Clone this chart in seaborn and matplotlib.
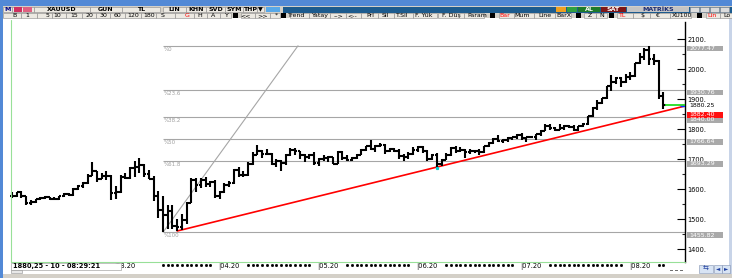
import numpy as np
import pandas as pd
import matplotlib
matplotlib.use("Agg")
import matplotlib.pyplot as plt
import seaborn as sns
from matplotlib.patches import Rectangle
import matplotlib.transforms as mtransforms

sns.set_style("white")
plt.rcParams['font.family'] = ['DejaVu Sans']

# ---------------- data (XAUUSD daily, 30.01.2020 - 12.08.2020) ----------------
opens = [1576, 1577, 1589, 1576, 1553, 1557, 1566, 1570, 1572, 1567, 1566, 1576, 1584, 1581, 1601, 1611, 1620, 1643, 1659, 1635, 1642, 1643,
         1585, 1589, 1641, 1636, 1669, 1674, 1680, 1649, 1635, 1576, 1529, 1514, 1527, 1478, 1472, 1498, 1553, 1630, 1613, 1629, 1617, 1622,
         1577, 1591, 1613, 1620, 1663, 1648, 1647, 1684, 1714, 1726, 1716, 1717, 1683, 1694, 1686, 1713, 1729, 1726, 1713, 1706, 1713,
         1686, 1700, 1702, 1706, 1685, 1725, 1702, 1698, 1702, 1715, 1731, 1743, 1733, 1745, 1747, 1726, 1735, 1728, 1709, 1708, 1718,
         1730, 1740, 1727, 1699, 1714, 1685, 1698, 1715, 1738, 1728, 1730, 1725, 1727, 1727, 1722, 1743, 1755, 1768, 1761, 1764, 1771, 1772,
         1781, 1769, 1775, 1774, 1783, 1795, 1809, 1803, 1798, 1802, 1809, 1808, 1797, 1810, 1818, 1842, 1871, 1888, 1902, 1942, 1958, 1970, 1958,
         1975, 1976, 2019, 2039, 2062, 2035, 2028, 1911]
highs = [1589, 1590, 1592, 1577, 1562, 1568, 1574, 1575, 1574, 1572, 1578, 1585, 1586, 1604, 1612, 1624, 1649, 1689, 1661, 1652, 1660, 1646,
         1610, 1646, 1652, 1672, 1692, 1703, 1682, 1662, 1645, 1594, 1575, 1547, 1547, 1500, 1515, 1557, 1637, 1636, 1638, 1640, 1628, 1629,
         1592, 1619, 1626, 1667, 1672, 1660, 1690, 1722, 1747, 1730, 1735, 1719, 1699, 1697, 1717, 1738, 1736, 1728, 1717, 1718, 1722,
         1702, 1715, 1710, 1708, 1726, 1728, 1715, 1706, 1718, 1735, 1745, 1765, 1747, 1753, 1749, 1737, 1738, 1735, 1716, 1724, 1740,
         1745, 1742, 1729, 1718, 1719, 1700, 1719, 1739, 1744, 1740, 1733, 1735, 1731, 1734, 1745, 1757, 1769, 1779, 1768, 1773, 1775, 1785,
         1788, 1775, 1777, 1785, 1796, 1818, 1818, 1808, 1818, 1813, 1814, 1812, 1811, 1820, 1843, 1875, 1898, 1904, 1945, 1981, 1975, 1972, 1985,
         1990, 2021, 2055, 2069, 2077.47, 2049, 2031, 1923]
lows = [1570, 1573, 1570, 1548, 1548, 1554, 1562, 1566, 1562, 1563, 1564, 1574, 1577, 1578, 1598, 1603, 1617, 1643, 1624, 1634, 1631, 1563,
        1567, 1587, 1632, 1635, 1640, 1655, 1640, 1633, 1560, 1504, 1455.82, 1465, 1466, 1460, 1463, 1482, 1552, 1591, 1604, 1608, 1605, 1571,
        1568, 1588, 1605, 1615, 1640, 1640, 1643, 1680, 1712, 1703, 1712, 1681, 1672, 1660, 1680, 1710, 1715, 1700, 1690, 1700, 1680,
        1677, 1692, 1690, 1683, 1682, 1697, 1692, 1694, 1700, 1712, 1726, 1729, 1725, 1740, 1718, 1724, 1725, 1700, 1693, 1700, 1715,
        1725, 1721, 1693, 1697, 1671, 1676, 1697, 1711, 1720, 1723, 1705, 1717, 1720, 1713, 1719, 1740, 1750, 1757, 1755, 1758, 1765, 1766,
        1762, 1758, 1770, 1762, 1777, 1792, 1797, 1793, 1797, 1797, 1803, 1795, 1795, 1806, 1813, 1840, 1865, 1882, 1900, 1928, 1949, 1940, 1954,
        1964, 1975, 2017, 2030, 2015, 2015, 1900, 1867]
closes = [1577, 1589, 1576, 1553, 1557, 1566, 1570, 1572, 1567, 1566, 1576, 1584, 1581, 1601, 1611, 1620, 1643, 1659, 1635, 1642, 1643, 1585,
          1589, 1641, 1636, 1669, 1674, 1680, 1649, 1635, 1576, 1529, 1514, 1527, 1478, 1472, 1498, 1553, 1630, 1613, 1629, 1617, 1622, 1577,
          1591, 1613, 1620, 1663, 1648, 1647, 1684, 1714, 1726, 1716, 1717, 1683, 1694, 1686, 1713, 1729, 1726, 1713, 1706, 1713, 1686,
          1700, 1702, 1706, 1685, 1725, 1702, 1698, 1702, 1715, 1731, 1743, 1733, 1745, 1747, 1726, 1735, 1728, 1709, 1708, 1718, 1730,
          1740, 1727, 1699, 1714, 1685, 1698, 1715, 1738, 1728, 1730, 1725, 1727, 1727, 1722, 1743, 1755, 1768, 1761, 1764, 1771, 1772, 1781,
          1769, 1775, 1774, 1783, 1795, 1809, 1803, 1798, 1802, 1809, 1808, 1797, 1810, 1818, 1842, 1871, 1888, 1902, 1942, 1958, 1970, 1958, 1975,
          1976, 2019, 2039, 2062, 2035, 2028, 1911, 1880.25]

month_idx = [22, 44, 65, 86, 108, 131]
month_labels = ["03.20", "04.20", "05.20", "06.20", "07.20", "08.20"]
price_ticks = [1400, 1500, 1600, 1700, 1800, 1900, 2000, 2100]
minor_ticks = [1450, 1550, 1650, 1750, 1850, 1950, 2050]

fib_high = 2077.47
fib_low = 1455.82
fib_pcts = [0, 23.6, 38.2, 50, 61.8, 100]
fib_names = ["%0", "%23.6", "%38.2", "%50", "%61.8", "%100"]
fib_start = 32
diag_x = [32, 60.6]
diag_y = [1455.82, 2077.47]
trend_x = [35, 90]
trend_y = [1460, 1673]
touch_idx = [90]
touch_val = [1671]
last_price = 1880.25
trend_tag = 1882.40
status_text = "1880,25 - 10 - 08:29:21"

# ---------------- layout ----------------
W, H = 732, 278
fig = plt.figure(figsize=(W / 100, H / 100), dpi=100, facecolor="white")
PXB = 4.72          # pixels per bar
X0 = 12             # pixel x of first bar
xmin, xmax = (10 - X0) / PXB, (685 - X0) / PXB
ymin, ymax = 1400 - 13 / 0.3, 1400 + 227 / 0.3

ax = fig.add_axes([10 / W, (H - 262) / H, 675 / W, 240 / H])
ax.set_facecolor("white")
ax.set_xlim(xmin, xmax)
ax.set_ylim(ymin, ymax)

def R(x0, y0, x1, y1, fc, ec="none", lw=0.0, z=5):
    fig.add_artist(Rectangle((x0 / W, 1 - y1 / H), (x1 - x0) / W, (y1 - y0) / H,
                             transform=fig.transFigure, facecolor=fc, edgecolor=ec,
                             linewidth=lw, zorder=z))

def T(x, y, s, size=4.5, color="black", ha="center", weight="normal", z=6):
    fig.text(x / W, 1 - y / H, s, ha=ha, va="center", fontsize=size, color=color,
             fontweight=weight, zorder=z)

df = pd.DataFrame({"o": opens, "h": highs, "l": lows, "c": closes})
df["i"] = np.arange(len(df))

# fib levels
fib_vals = [fib_high - p / 100 * (fib_high - fib_low) for p in fib_pcts]
for v, nm in zip(fib_vals, fib_names):
    ax.hlines(v, fib_start, xmax, color="#A6A6A6", lw=0.8, zorder=1)
    ax.text(fib_start + 0.1, v - 3, nm, fontsize=4, color="#A0A0A0", ha="left", va="top", zorder=1)

# gann-like diagonal
sns.lineplot(x=diag_x, y=diag_y, ax=ax, color="#A6A6A6", lw=0.8, zorder=1)

# trend line extended to axis
slope = (trend_y[1] - trend_y[0]) / (trend_x[1] - trend_x[0])
tx = np.array([trend_x[0], xmax])
ty = trend_y[0] + slope * (tx - trend_x[0])
sns.lineplot(x=tx, y=ty, ax=ax, color="#FF0000", lw=1.2, zorder=2)

# OHLC bars
ax.vlines(df["i"], df["l"], df["h"], color="black", lw=1.5, zorder=3)
ax.hlines(df["o"], df["i"] - 0.48, df["i"], color="black", lw=1.5, zorder=3)
ax.hlines(df["c"], df["i"], df["i"] + 0.48, color="black", lw=1.5, zorder=3)
ax.plot(touch_idx, touch_val, "s", color="#00D0D0", ms=1.3, zorder=4)

# last-price line
ax.hlines(last_price, df["i"].iloc[-1] + 0.4, xmax, color="#22DD22", lw=1.3, zorder=4)
ax.hlines(last_price - 3, xmax - 1.1, xmax, color="#1030FF", lw=1.0, zorder=4)

# axes styling
for s in ["top", "left", "bottom"]:
    ax.spines[s].set_visible(False)
ax.spines["right"].set_color("black")
ax.spines["right"].set_linewidth(1.0)
ax.yaxis.tick_right()
ax.set_yticks(price_ticks)
ax.set_yticklabels([f"{p}." for p in price_ticks])
ax.set_yticks(minor_ticks, minor=True)
ax.tick_params(axis="y", which="major", direction="in", length=6, width=0.8,
               labelsize=4.8, pad=2, colors="black")
ax.tick_params(axis="y", which="minor", direction="in", length=2.5, width=0.8)
ax.set_xticks([])

# right-side value tags
bt = mtransforms.blended_transform_factory(ax.transAxes, ax.transData)
for v in fib_vals:
    ax.add_patch(Rectangle((1.003, v - 19), 36 / 675, 19, transform=bt, clip_on=False,
                           facecolor="#A9A9A9", edgecolor="none", zorder=5))
    ax.text(1.006, v - 9.5, f"{v:.2f}", transform=bt, fontsize=4.5, color="white",
            ha="left", va="center", zorder=6, clip_on=False)
ax.add_patch(Rectangle((1.003, trend_tag - 45), 36 / 675, 19, transform=bt, clip_on=False,
                       facecolor="#FF1010", edgecolor="none", zorder=5))
ax.text(1.006, trend_tag - 35.5, f"{trend_tag:.2f}", transform=bt, fontsize=4.5, color="white",
        ha="left", va="center", zorder=6, clip_on=False)
ax.text(1.006, last_price - 2, f"{last_price:.2f}", transform=bt, fontsize=4.5, color="black",
        ha="left", va="center", zorder=6, clip_on=False)

# date labels and dotted bar row
bx = mtransforms.blended_transform_factory(ax.transData, fig.transFigure)
for mi, ml in zip(month_idx, month_labels):
    ax.text(mi - 0.3, 1 - 266.5 / H, "|" + ml, transform=bx, fontsize=4.8, color="black",
            ha="left", va="center", clip_on=False)
dots = [i for i in range(fib_start, len(df))
        if not any(m - 1 <= i <= m + 5 for m in month_idx)]
ax.plot(dots, [1 - 265 / H] * len(dots), "s", color="black", ms=1.0, transform=bx,
        clip_on=False)

# ---------------- window chrome ----------------
R(0, 0, W, 6, "#5289D6", z=4)
R(0, 0, 3, H, "#5289D6", z=4)
R(729, 18, W, 274, "#C8D4E8", z=4)
R(3, 6, W, 18, "#D4D0C8", z=4)
R(283, 6.5, W, 12.5, "#1D5B8E", z=4)
# green frame lines
fig.add_artist(plt.Line2D([11 / W, 11 / W], [1 - 20 / H, 1 - 262 / H], transform=fig.transFigure,
                          color="#98E098", lw=0.8, zorder=4))
fig.add_artist(plt.Line2D([11 / W, 685 / W], [1 - 262.3 / H, 1 - 262.3 / H], transform=fig.transFigure,
                          color="#98E098", lw=0.8, zorder=4))

# toolbar row 1
row1 = [("M", 3, 12, "#000080"), ("", 12, 34, None), ("XAUUSD", 34, 90, "black"), ("GUN", 90, 122, "black"),
        ("TL", 122, 160, "black"), ("LIN", 163, 186, "black"), ("KHN", 186, 206, "black"),
        ("SVD", 206, 225, "black"), ("SYM", 225, 243, "black"), ("THP", 243, 257, "black"),
        ("▼", 257, 264, "black")]
for txt, a, b, col in row1:
    R(a, 6.7, b, 12.4, "#ECE9E2", ec="#8A8A8A", lw=0.4, z=5)
    if txt:
        T((a + b) / 2, 9.6, txt, size=4.5, color=col, weight="bold")
R(14, 7.3, 22, 11.8, "#D03060", z=6)
R(23, 7.3, 32, 11.8, "#E06080", z=6)
R(266, 6.7, 280, 12.4, "#58A8E8", z=5)
R(556, 7, 566, 12.2, "#F0A020", z=5)
R(567, 7, 577, 12.2, "#30A040", z=5)
R(578, 6.8, 600, 12.4, "#1E7A2A", z=5)
T(589, 9.6, "AL", size=4.5, color="white", weight="bold")
R(601, 6.8, 626, 12.4, "#7E1616", z=5)
T(613.5, 9.6, "SAT", size=4.5, color="white", weight="bold")
R(627, 6.8, 689, 12.4, "#C4C4C4", z=5)
T(658, 9.6, "MATRİKS", size=4.5, color="#1A2A70", weight="bold")
for a in [690, 700, 710, 720]:
    R(a, 7, a + 9, 12.2, "#DCDCDC", ec="#909090", lw=0.4, z=5)

# toolbar row 2
row2 = [("B", 15), ("1", 27), ("5", 47), ("10", 57), ("15", 74), ("20", 89), ("30", 103), ("60", 117),
        ("120", 133), ("180", 149), ("S", 163), ("G", 187, "red"), ("H", 200), ("A", 213), ("Y", 227),
        ("■", 235), ("<<", 246), (">>", 263), ("*", 276), ("■", 283), ("Trend", 297), ("Yatay", 320),
        ("-->", 339), ("<--", 352), ("Prl", 370), ("Sil", 385), ("T.Sil", 402), ("F. Yük", 424),
        ("F. Düş", 451), ("Param", 477), ("■", 492), ("Bar", 505, "red"), ("Mum", 522), ("Line", 545),
        ("BarX", 564), ("■", 578), ("Z", 590), ("N", 602), ("■", 611), ("TL", 623, "red"), ("$", 642),
        ("€", 658), ("XU100", 682), ("■", 699), ("Lin", 712, "red"), ("Lo", 727)]
centers = [r[1] for r in row2]
edges = [3] + [(centers[k] + centers[k + 1]) / 2 for k in range(len(centers) - 1)] + [732]
for k, r in enumerate(row2):
    txt, c = r[0], r[1]
    col = r[2] if len(r) > 2 else "black"
    if txt == "■":
        R(c - 2.5, 13, c + 2.5, 17.8, "black", z=5)
        continue
    R(edges[k], 12.8, edges[k + 1], 17.9, "#ECE9E2", ec="#8A8A8A", lw=0.4, z=5)
    T(c, 15.4, txt, size=4.5, color=col)

# status box bottom-left
R(11, 262.8, 121, 269.8, "white", ec="#A8A8A8", lw=0.5, z=5)
T(13, 266.3, status_text, size=4.8, ha="left", weight="bold", z=6)
R(11, 270, 22, 273, "#E8E8E8", ec="#909090", lw=0.4, z=5)
# bottom-right controls
for a in [670, 675, 680]:
    R(a, 269.5, a + 3, 270.5, "#707070", z=5)
R(699, 264.5, 713, 272.5, "#D8E4F4", ec="#8090B0", lw=0.4, z=5)
T(706, 268.5, "⇆", size=5, color="#2040A0", z=6)
R(714, 265, 722, 272.5, "#D8E4F4", ec="#8090B0", lw=0.4, z=5)
T(718, 268.8, "◄", size=4, color="#2040A0", z=6)
R(722, 265, 730, 272.5, "#D8E4F4", ec="#8090B0", lw=0.4, z=5)
T(726, 268.8, "►", size=4, color="#2040A0", z=6)
R(3, 274, W, H, "#D4D0C8", z=4)

fig.savefig("out.png", dpi=100, facecolor="white")
